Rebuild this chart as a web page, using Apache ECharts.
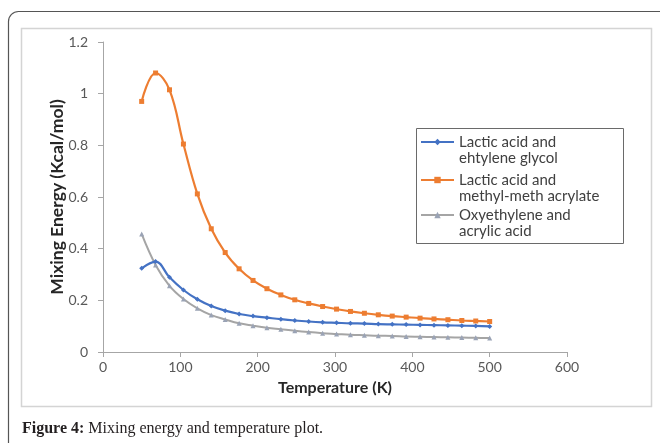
<!DOCTYPE html>
<html>
<head>
<meta charset="utf-8">
<script src="https://cdn.jsdelivr.net/npm/echarts@6/dist/echarts.min.js"></script>
<style>
  html, body { margin: 0; padding: 0; background: #fff; }
  #main-chart { width: 660px; height: 443px; }
</style>
</head>
<body>
<div id="main-chart"></div>
<script>
var mainChart;

// temperature (K)
var temps = [50, 68, 86, 104, 122, 140, 158, 176, 194, 212, 230, 248, 266,
    284, 302, 320, 338, 356, 374, 392, 410, 428, 446, 464, 482, 500];

// mixing energy (Kcal/mol)
var lacticEthylene = [0.324, 0.350, 0.289, 0.240, 0.204, 0.178, 0.160, 0.147, 0.139, 0.133, 0.127, 0.122, 0.118,
    0.115, 0.113, 0.111, 0.110, 0.108, 0.107, 0.106, 0.105, 0.104, 0.103, 0.102, 0.101, 0.099];
var lacticMma = [0.970, 1.080, 1.015, 0.805, 0.612, 0.477, 0.385, 0.322, 0.277, 0.245, 0.221, 0.202, 0.188,
    0.176, 0.166, 0.157, 0.150, 0.144, 0.139, 0.135, 0.131, 0.128, 0.125, 0.122, 0.120, 0.118];
var oxyAcrylic = [0.457, 0.337, 0.256, 0.205, 0.169, 0.143, 0.126, 0.111, 0.102, 0.094, 0.088, 0.082, 0.077,
    0.073, 0.070, 0.067, 0.065, 0.063, 0.062, 0.060, 0.059, 0.058, 0.057, 0.056, 0.055, 0.054];

var seriesNames = ['Lactic acid and\nehtylene glycol', 'Lactic acid and\nmethyl-meth acrylate', 'Oxyethylene and\nacrylic acid'];
var seriesColors = ['#4472C4', '#ED7D31', '#A5A5A5'];
var caption = 'Mixing energy and temperature plot.';

function pairs(ys) {
    return temps.map(function (t, i) { return [t, ys[i]]; });
}

function makeLegend(idx, top) {
    return {
        data: [seriesNames[idx]],
        left: 420,
        top: top,
        padding: 0,
        itemWidth: 33,
        itemHeight: 8,
        itemGap: 5,
        formatter: function (name) { return '\n' + name; },
        textStyle: {
            fontFamily: 'Lato',
            fontSize: 15,
            lineHeight: 16,
            color: '#404040'
        }
    };
}

function chartInit() {
    mainChart = echarts.init(document.getElementById('main-chart'));

    var fontSans = 'Lato';
    var mainOpt = {
        animation: false,
        backgroundColor: '#fff',
        title: {
            text: '{b|Figure 4:} ' + caption,
            left: 17,
            top: 416,
            textStyle: {
                fontFamily: 'Liberation Serif',
                fontSize: 16,
                fontWeight: 'normal',
                color: '#231f20',
                rich: {
                    b: { fontFamily: 'Liberation Serif', fontSize: 16, fontWeight: 'bold', color: '#231f20' }
                }
            }
        },
        graphic: [{
            type: 'rect',
            shape: { x: 8.5, y: 11.5, width: 700, height: 500, r: 10 },
            style: { fill: 'none', stroke: '#555', lineWidth: 1.2 },
            silent: true
        }, {
            type: 'rect',
            shape: { x: 21.5, y: 28.5, width: 630, height: 378 },
            style: { fill: 'none', stroke: '#d4d4d4', lineWidth: 1.5 },
            silent: true
        }, {
            type: 'rect',
            shape: { x: 416.5, y: 128.5, width: 207, height: 115 },
            style: { fill: 'none', stroke: '#6a6a6a', lineWidth: 1 },
            silent: true
        }],
        legend: [makeLegend(0, 118), makeLegend(1, 156), makeLegend(2, 191)],
        grid: {
            left: 103,
            top: 42,
            right: 93,
            bottom: 91
        },
        xAxis: {
            type: 'value',
            min: 0,
            max: 600,
            interval: 100,
            name: 'Temperature (K)',
            nameLocation: 'middle',
            nameGap: 28,
            nameTextStyle: { fontFamily: fontSans, fontSize: 16, fontWeight: 'bold', color: '#262626' },
            axisLine: { show: true, lineStyle: { color: '#a6a6a6' } },
            axisTick: { show: true, length: 5, lineStyle: { color: '#a6a6a6' } },
            axisLabel: { margin: 8, fontFamily: fontSans, fontSize: 14, color: '#595959' },
            splitLine: { show: false }
        },
        yAxis: {
            type: 'value',
            min: 0,
            max: 1.2,
            interval: 0.2,
            name: 'Mixing Energy (Kcal/mol)',
            nameLocation: 'middle',
            nameRotate: 90,
            nameGap: 37,
            nameMoveOverlap: false,
            nameTextStyle: { fontFamily: fontSans, fontSize: 17.5, fontWeight: 'bold', color: '#262626' },
            axisLine: { show: true, lineStyle: { color: '#a6a6a6' } },
            axisTick: { show: true, length: 5, lineStyle: { color: '#a6a6a6' } },
            axisLabel: { margin: 15, fontFamily: fontSans, fontSize: 14, color: '#595959' },
            splitLine: { show: false }
        },
        series: [{
            name: seriesNames[0],
            type: 'line',
            smooth: 0.4,
            data: pairs(lacticEthylene),
            symbol: 'diamond',
            symbolSize: 5,
            itemStyle: { color: seriesColors[0] },
            lineStyle: { width: 2.2, color: seriesColors[0] },
            z: 3
        }, {
            name: seriesNames[1],
            type: 'line',
            smooth: 0.4,
            data: pairs(lacticMma),
            symbol: 'rect',
            symbolSize: 5,
            itemStyle: { color: seriesColors[1] },
            lineStyle: { width: 2.2, color: seriesColors[1] },
            z: 2
        }, {
            name: seriesNames[2],
            type: 'line',
            smooth: 0.4,
            data: pairs(oxyAcrylic),
            symbol: 'triangle',
            symbolSize: 5,
            itemStyle: { color: '#9aa3b5' },
            lineStyle: { width: 2, color: seriesColors[2] },
            z: 2
        }]
    };

    mainChart.setOption(mainOpt);
}

window.onload = function () {
    chartInit();
};
</script>
</body>
</html>
